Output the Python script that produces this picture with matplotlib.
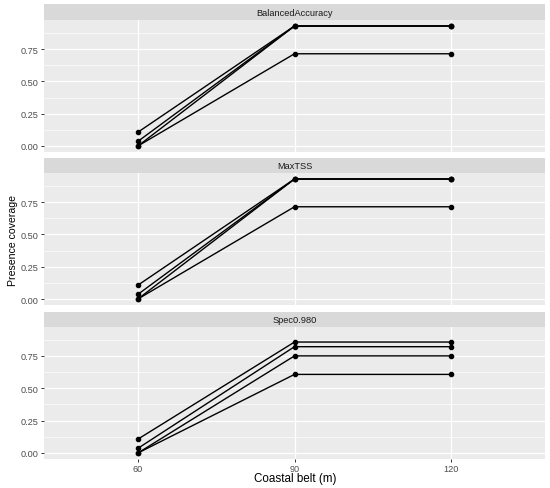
import matplotlib
matplotlib.use("Agg")
import matplotlib.pyplot as plt
import numpy as np

plt.rcParams['font.family'] = ['Liberation Sans', 'DejaVu Sans']

# datos
coastal_belt = ["60", "90", "120"]
panels = ["BalancedAccuracy", "MaxTSS", "Spec0.980"]

balanced_accuracy = [
    [0.107, 0.929, 0.929],
    [0.036, 0.929, 0.929],
    [0.000, 0.929, 0.929],
    [0.000, 0.714, 0.714],
]
max_tss = [
    [0.107, 0.929, 0.929],
    [0.036, 0.929, 0.929],
    [0.000, 0.929, 0.929],
    [0.000, 0.714, 0.714],
]
spec_0980 = [
    [0.107, 0.857, 0.857],
    [0.036, 0.821, 0.821],
    [0.000, 0.750, 0.750],
    [0.000, 0.607, 0.607],
]
valores = [balanced_accuracy, max_tss, spec_0980]

y_ticks = [0.0, 0.25, 0.5, 0.75]
y_minor = [0.125, 0.375, 0.625, 0.875]

# escala y compartida con 5% de expansion (como ggplot)
todos = np.concatenate([np.ravel(v) for v in valores])
lo, hi = todos.min(), todos.max()
pad = 0.05 * (hi - lo)

fig = plt.figure(figsize=(5.5, 4.89), dpi=100)

W, H = 550, 489
left, right = 44, 545
# (strip top, panel top, panel bottom) en pixeles
cajas = [(5, 21, 153), (159, 174, 306), (312.7, 327.7, 460)]

for i, (nombre, series) in enumerate(zip(panels, valores)):
    s_top, p_top, p_bot = cajas[i]
    ax = fig.add_axes([left / W, 1 - p_bot / H, (right - left) / W, (p_bot - p_top) / H])
    ax.set_facecolor('#EBEBEB')
    for s in ax.spines.values():
        s.set_visible(False)

    for s in series:
        ax.plot(coastal_belt, s, color='black', lw=1.0, marker='o', ms=3.0, zorder=3)

    ax.set_xlim(-0.6, 2.6)
    ax.set_ylim(lo - pad, hi + pad)
    ax.set_yticks(y_ticks)
    ax.set_yticklabels(["0.00", "0.25", "0.50", "0.75"])
    ax.set_yticks(y_minor, minor=True)
    ax.grid(True, which='major', color='white', lw=0.9, zorder=0)
    ax.grid(True, which='minor', axis='y', color='white', lw=0.45, zorder=0)
    ax.set_axisbelow(True)
    ax.tick_params(axis='both', which='major', length=2.2, width=0.7, color='#333333',
                   labelsize=6.6, labelcolor='#4D4D4D', pad=1.5)
    ax.tick_params(axis='y', which='minor', length=0)
    if i < 2:
        ax.tick_params(axis='x', which='major', length=0, labelbottom=False)

    # franja del titulo
    st = fig.add_axes([left / W, 1 - p_top / H, (right - left) / W, (p_top - s_top) / H])
    st.set_facecolor('#D9D9D9')
    st.set_xticks([])
    st.set_yticks([])
    for s in st.spines.values():
        s.set_visible(False)
    st.text(0.5, 0.5, nombre, ha='center', va='center', fontsize=6.7, color='#1A1A1A',
            transform=st.transAxes)

fig.text(13 / W, 1 - 240 / H, "Presence coverage", rotation=90, ha='center', va='center',
         fontsize=7.6, color='black')
fig.text(295 / W, 1 - 479 / H, "Coastal belt (m)", ha='center', va='center',
         fontsize=8.4, color='black')

fig.savefig("out.png", dpi=100, facecolor='white')
